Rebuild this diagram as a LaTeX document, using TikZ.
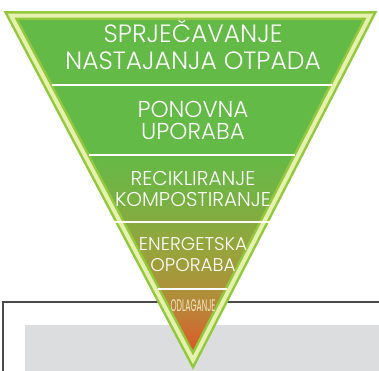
\documentclass[tikz,border=0pt]{standalone}
\usepackage{fontspec}
\newfontfamily\levelfont{Poppins Light}
\newfontfamily\lastfont{Poppins}[FakeStretch=0.46]
\definecolor{boxline}{HTML}{4A4A4A}
\definecolor{boxgray}{HTML}{DCDDDE}
\definecolor{rimlime}{HTML}{92C83E}
\definecolor{rimpale}{HTML}{E6F1AE}
\definecolor{odlcream}{HTML}{F4E7C6}
\definecolor{pyrA}{HTML}{E24E28}
\definecolor{pyrB}{HTML}{DC5729}
\definecolor{pyrC}{HTML}{CF6A2E}
\definecolor{pyrD}{HTML}{B5893A}
\definecolor{pyrE}{HTML}{9AA23B}
\definecolor{pyrF}{HTML}{78B143}
\definecolor{pyrG}{HTML}{64BA47}
\pgfdeclareverticalshading{pyramidfill}{100bp}{color(0bp)=(pyrA); color(25bp)=(pyrA);
  color(26.6bp)=(pyrB); color(28.8bp)=(pyrC); color(33.1bp)=(pyrD);
  color(40.3bp)=(pyrE); color(48.3bp)=(pyrF); color(55.5bp)=(pyrG);
  color(75bp)=(pyrG); color(100bp)=(pyrG)}
\tikzset{level/.style={anchor=base,text=white,inner sep=0pt,font=\levelfont\fontsize{11.5}{12}\selectfont},
  sep/.style={white,line width=1pt}}

\begin{document}
\begin{tikzpicture}[x=0.5pt,y=-0.5pt]
  \useasboundingbox (0,0) rectangle (379,370);
  \clip (0,0) rectangle (379,370);
  % box behind the pyramid
  \fill[boxgray] (25,325) rectangle (400,400);
  \draw[boxline,line width=0.8pt] (3,400) |- (400,302);
  % pyramid
  \coordinate (tl) at (11,15.5);
  \coordinate (tr) at (370,15.5);
  \coordinate (ap) at (193,360);
  \shade[shading=pyramidfill] (tl) -- (tr) -- (ap) -- cycle;
  \draw[rimlime,line width=4.5pt,line join=miter] (tl) -- (tr) -- (ap) -- cycle;
  \draw[rimpale,line width=2pt,line join=miter] (tl) -- (tr) -- (ap) -- cycle;
  % levels
  \node[level,font=\levelfont\fontsize{12.5}{13}\selectfont] (prev1) at (193,42) {SPRJEČAVANJE};
  \node[level,font=\levelfont\fontsize{12.5}{13}\selectfont] (prev2) at (193,69) {NASTAJANJA OTPADA};
  \draw[sep] (52,85) -- (332,85);
  \node[level] (reuse1) at (193,117) {PONOVNA};
  \node[level] (reuse2) at (193,139) {UPORABA};
  \draw[sep] (89,155) -- (295,155);
  \node[level,font=\levelfont\fontsize{10}{11}\selectfont] (recyc1) at (193,185) {RECIKLIRANJE};
  \node[level,font=\levelfont\fontsize{10}{11}\selectfont] (recyc2) at (193,206) {KOMPOSTIRANJE};
  \draw[sep] (109,222) -- (280,222);
  \node[level,font=\levelfont\fontsize{9.2}{11}\selectfont] (energy1) at (193,250) {ENERGETSKA};
  \node[level,font=\levelfont\fontsize{9.2}{11}\selectfont] (energy2) at (193,271) {OPORABA};
  \draw[sep] (158,289) -- (227,289);
  \node[level,text=odlcream,font=\lastfont\fontsize{8.4}{9}\selectfont] (disp) at (193,311) {ODLAGANJE};
\end{tikzpicture}
\end{document}
